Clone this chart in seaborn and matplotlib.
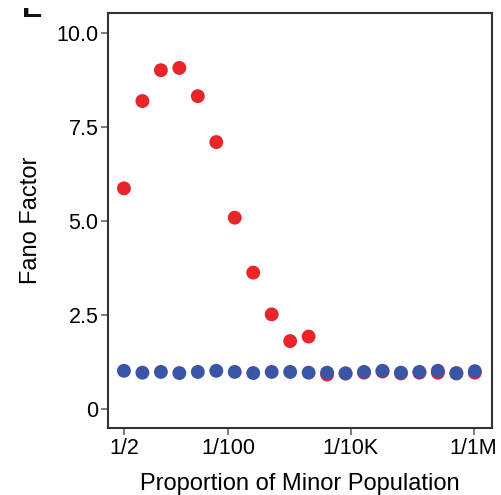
import matplotlib
matplotlib.use("Agg")
import matplotlib.pyplot as plt
import matplotlib.patches as mpatches
import seaborn as sns
import pandas as pd
import numpy as np

# Denominators of minor-population proportion (1/2, 1/4, ... 1/2^20)
denominators = [2, 4, 8, 16, 32, 64, 128, 256, 512, 1024, 2048, 4096, 8192,
                16384, 32768, 65536, 131072, 262144, 524288, 1048576]
red_values = [5.87, 8.19, 9.01, 9.07, 8.32, 7.10, 5.09, 3.63, 2.52, 1.81, 1.93,
              0.92, 0.95, 0.97, 1.00, 0.95, 0.97, 0.97, 0.96, 0.97]
blue_values = [1.02, 0.97, 0.99, 0.96, 0.99, 1.02, 0.99, 0.96, 0.99, 0.99, 0.97,
               0.97, 0.95, 0.99, 1.02, 0.97, 0.99, 1.02, 0.95, 1.01]
tick_positions = [2, 100, 10000, 1000000]
tick_labels = ["1/2", "1/100", "1/10K", "1/1M"]
ytick_positions = [0, 2.5, 5.0, 7.5, 10.0]
ytick_labels = ["0", "2.5", "5.0", "7.5", "10.0"]

df = pd.DataFrame({
    "denom": denominators * 2,
    "fano": red_values + blue_values,
    "series": ["red"] * len(red_values) + ["blue"] * len(blue_values),
})

sns.set_style("white")
plt.rcParams["font.family"] = ["Liberation Sans", "DejaVu Sans"]

fig = plt.figure(figsize=(5.01, 4.95), dpi=100)
ax = fig.add_axes([0.2156, 0.1354, 0.7665, 0.8383])

sns.scatterplot(data=df, x="denom", y="fano", hue="series",
                palette={"red": "#E8262A", "blue": "#3B55A6"},
                s=100, edgecolor="none", linewidth=0, legend=False, ax=ax)

ax.set_xscale("log")
ax.set_xlim(1.1, 2.0e6)
ax.set_ylim(-0.5, 10.53)
ax.set_xticks(tick_positions)
ax.set_xticklabels(tick_labels)
ax.xaxis.set_minor_locator(matplotlib.ticker.NullLocator())
ax.set_yticks(ytick_positions)
ax.set_yticklabels(ytick_labels)

ax.tick_params(axis="both", which="major", length=5, width=1.2, color="#666666",
               labelsize=15.5, labelcolor="#000000", pad=2, bottom=True, left=True)
for sp in ax.spines.values():
    sp.set_color("#333333")
    sp.set_linewidth(1.5)

ax.set_xlabel("Proportion of Minor Population", fontsize=17, color="#000000", labelpad=10)
ax.set_ylabel("Fano Factor", fontsize=17, color="#000000", labelpad=10)

# clipped panel letter at the top-left (only its lower part is visible)
fig.text(22 / 501, 1 - 17 / 495, "E", fontsize=22, fontweight="bold", color="#111111",
         ha="left", va="baseline", zorder=1)
fig.patches.append(mpatches.Rectangle((0, 1 - 8 / 495), 60 / 501, 8 / 495,
                                      transform=fig.transFigure, facecolor="white",
                                      edgecolor="none", zorder=5))

fig.savefig("out.png", dpi=100)
